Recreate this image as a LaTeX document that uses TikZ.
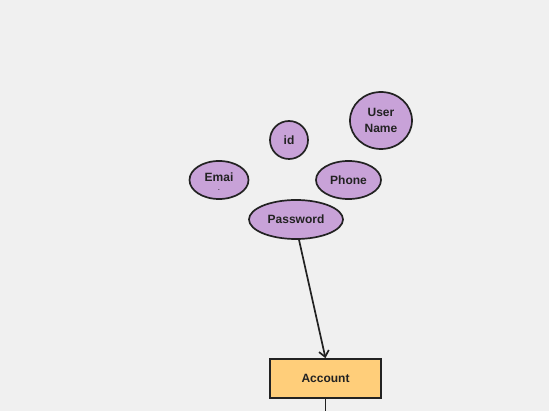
\documentclass[tikz,border=0pt]{standalone}
\usepackage{fontspec}
\setmainfont{Liberation Sans}
\usetikzlibrary{shapes.geometric,arrows.meta}
\definecolor{bg}{HTML}{F0F0F0}
\definecolor{attr}{HTML}{C8A2D8}
\definecolor{ent}{HTML}{FFCE7A}
\definecolor{ink}{HTML}{222222}
\begin{document}
\begin{tikzpicture}[x=1pt,y=-1pt,
  attrnode/.style={ellipse,draw=ink,line width=1.7pt,fill=attr,inner sep=0pt,
    font=\fontsize{12}{16}\selectfont\bfseries,text=ink,align=center},
  entnode/.style={rectangle,draw=ink,line width=1.7pt,fill=ent,inner sep=0pt,
    font=\fontsize{12}{14}\selectfont\bfseries,text=ink},
  conn/.style={draw=ink,line width=1.7pt}]
\fill[bg] (0,0) rectangle (549,411);
\useasboundingbox (0,0) rectangle (549,411);
\node[attrnode,minimum width=62pt,minimum height=57pt] (uname) at (381,120.5) {User\\Name};
\node[attrnode,minimum width=38pt,minimum height=38pt] (id) at (289,140) {id};
\node[attrnode,minimum width=59pt,minimum height=38pt] (email) at (219,180) {};
\node[font=\fontsize{12}{14}\selectfont\bfseries,text=ink,inner sep=0pt] (emailtxt) at (219,177.5) {Emai};
\node[font=\fontsize{6}{6}\selectfont\bfseries,text=ink,inner sep=0pt] (emaildot) at (219,190) {.};
\node[attrnode,minimum width=65pt,minimum height=38pt] (phone) at (348.5,180) {Phone};
\node[attrnode,minimum width=94pt,minimum height=39pt] (pass) at (296,219.5) {Password};
\node[entnode,minimum width=111pt,minimum height=39pt] (acct) at (325.5,378.5) {Account};
\coordinate (bottom) at (325.5,411);
\draw[conn,-{Straight Barb[length=6pt,width=10pt,line width=1.7pt]}] (pass.south) ++(3,0) coordinate (ps) -- (acct.north);
\draw[conn] (acct.south) -- (bottom);
\end{tikzpicture}
\end{document}
